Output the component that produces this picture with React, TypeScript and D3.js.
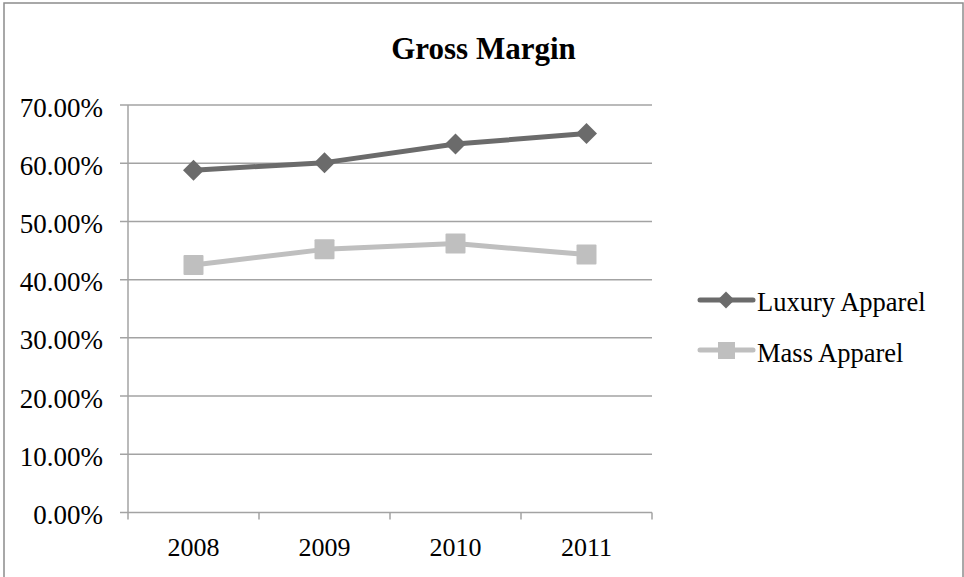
import React from "react";
import * as d3 from "d3";

const categories: string[] = ["2008", "2009", "2010", "2011"];
const luxury: number[] = [58.8, 60.1, 63.3, 65.1];
const mass: number[] = [42.5, 45.2, 46.2, 44.3];
const yTicks: number[] = [0, 10, 20, 30, 40, 50, 60, 70];
const seriesNames: string[] = ["Luxury Apparel", "Mass Apparel"];

const W = 964;
const H = 577;
const FONT = "'Liberation Serif', 'Times New Roman', serif";

export default function App() {
  const left = 128, right = 652, top = 105, bottom = 512.5;
  const x = d3.scaleBand<string>().domain(categories).range([left, right]);
  const y = d3.scaleLinear().domain([0, 70]).range([bottom, top]);
  const cx = (c: string) => (x(c) as number) + x.bandwidth() / 2;
  const line = d3.line<number>().x((_, i) => cx(categories[i])).y((d) => y(d));
  const dark = "#6b6b6b";
  const light = "#bfbfbf";
  const grid = "#a3a3a3";
  const diamond = (px: number, py: number, r: number) =>
    `M${px},${py - r}L${px + r},${py}L${px},${py + r}L${px - r},${py}Z`;

  return (
    <svg width={W} height={H} style={{ position: "absolute", left: 0, top: 0 }}>
      <rect x={0} y={0} width={W} height={H} fill="#fff" />
      <rect x={4} y={3} width={959} height={590} fill="none" stroke="#8c8c8c" strokeWidth={1.5} />
      <text x={483.5} y={59} textAnchor="middle" fontFamily={FONT} fontWeight="bold" fontSize={31}>
        Gross Margin
      </text>
      {yTicks.map((t) => (
        <g key={t}>
          <line x1={left - 8} x2={right} y1={y(t)} y2={y(t)} stroke={grid} strokeWidth={1.5} />
          <text x={103} y={y(t) + 11.5} textAnchor="end" fontFamily={FONT} fontSize={27}>
            {t.toFixed(2)}%
          </text>
        </g>
      ))}
      <line x1={left} x2={left} y1={top} y2={bottom + 7} stroke={grid} strokeWidth={1.5} />
      {categories.map((c) => (
        <line key={"t" + c} x1={(x(c) as number) + x.bandwidth()} x2={(x(c) as number) + x.bandwidth()} y1={bottom} y2={bottom + 7} stroke={grid} strokeWidth={1.5} />
      ))}
      {categories.map((c) => (
        <text key={"l" + c} x={cx(c)} y={556} textAnchor="middle" fontFamily={FONT} fontSize={26}>
          {c}
        </text>
      ))}
      <path d={line(luxury) || ""} fill="none" stroke={dark} strokeWidth={5} strokeLinejoin="round" />
      {luxury.map((v, i) => (
        <path key={"d" + i} d={diamond(cx(categories[i]), y(v), 10.5)} fill={dark} />
      ))}
      <path d={line(mass) || ""} fill="none" stroke={light} strokeWidth={5} strokeLinejoin="round" />
      {mass.map((v, i) => (
        <rect key={"s" + i} x={cx(categories[i]) - 10} y={y(v) - 10} width={20} height={20} fill={light} rx={1} />
      ))}
      <g>
        <line x1={700} x2={753} y1={300} y2={300} stroke={dark} strokeWidth={5} strokeLinecap="round" />
        <path d={diamond(726, 300, 8.5)} fill={dark} />
        <text x={757} y={310.5} fontFamily={FONT} fontSize={26.5}>
          {seriesNames[0]}
        </text>
        <line x1={700} x2={753} y1={350} y2={350} stroke={light} strokeWidth={5} strokeLinecap="round" />
        <rect x={718} y={342} width={17} height={17} fill={light} />
        <text x={757} y={361.5} fontFamily={FONT} fontSize={26.5}>
          {seriesNames[1]}
        </text>
      </g>
    </svg>
  );
}
